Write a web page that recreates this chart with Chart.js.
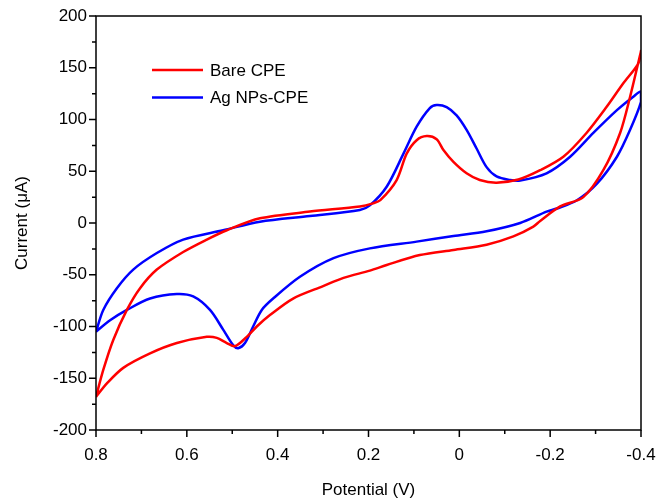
<!DOCTYPE html>
<html>
<head>
<meta charset="utf-8">
<script src="https://cdn.jsdelivr.net/npm/chart.js@4/dist/chart.umd.min.js"></script>
<style>
  html, body { margin: 0; padding: 0; background: #fff; }
  #wrap { width: 660px; height: 501px; }
</style>
</head>
<body>
<div id="wrap"><canvas id="cv"></canvas></div>
<script>
// Cyclic voltammograms. Each curve is a closed loop,
// listed in scan order: potential (V) and current (µA).
const bareV = [0.80, 0.784, 0.762, 0.732, 0.703, 0.666, 0.608, 0.556, 0.512, 0.439, 0.329, 0.219, 0.19, 0.174, 0.138, 0.116, 0.094, 0.072, 0.05, 0.035, 0.013, -0.016, -0.045, -0.082, -0.13, -0.178, -0.229, -0.28, -0.324, -0.361, -0.394, -0.40,
  -0.376, -0.354, -0.317, -0.273, -0.222, -0.178, -0.163, -0.119, -0.06, 0.013, 0.087, 0.16, 0.197, 0.255, 0.30, 0.366, 0.417, 0.446, 0.468, 0.494, 0.512, 0.534, 0.556, 0.622, 0.681, 0.74, 0.776, 0.80];
const bareI = [-168, -142, -113, -84, -63, -45, -28, -16, -7, 4.5, 11, 16, 19, 22, 41.5, 67, 80, 84, 81, 70.5, 59, 48, 41.5, 39, 42, 51, 64, 87, 112, 135, 154, 166,
  122, 87, 51, 25, 16, 2, -3.5, -13, -21, -26, -31, -40.6, -46, -53, -61, -73, -89, -100, -110, -119, -116, -111, -110, -116, -126, -140, -155, -168];

const agV = [0.80, 0.784, 0.754, 0.718, 0.666, 0.608, 0.52, 0.439, 0.329, 0.219, 0.197, 0.16, 0.123, 0.094, 0.065, 0.05, 0.028, 0.006, -0.016, -0.038, -0.06, -0.082, -0.112, -0.134, -0.192, -0.244, -0.295, -0.347, -0.383, -0.40,
  -0.40, -0.376, -0.347, -0.303, -0.259, -0.215, -0.192, -0.134, -0.06, 0.013, 0.094, 0.197, 0.277, 0.351, 0.41, 0.435, 0.454, 0.472, 0.487, 0.498, 0.52, 0.549, 0.586, 0.622, 0.681, 0.732, 0.769, 0.80];
const agI = [-105, -84, -63, -45, -29, -16, -7, 1.3, 6.8, 12.6, 17, 35, 67, 93, 111, 114, 112, 104, 90, 72, 54, 45, 41.5, 41, 48, 64, 87, 109, 122, 127,
  117, 90, 64, 38, 22, 14, 11, 0, -8, -12.6, -18, -24.5, -34, -52, -73, -84, -100, -116, -121, -118, -103, -84, -71, -68.6, -73, -84, -94, -105];

const seriesLabels = ['Bare CPE', 'Ag NPs-CPE'];
const seriesColors = ['#ff0000', '#0000ff'];

const xMajor = [0.8, 0.6, 0.4, 0.2, 0, -0.2, -0.4];
const yMajor = [-200, -150, -100, -50, 0, 50, 100, 150, 200];

const FONT = '"Liberation Sans", Arial, Helvetica, sans-serif';
const pts = (xs, ys) => xs.map((x, i) => ({ x, y: ys[i] }));

// Frame, outward major/minor ticks and the in-plot legend.
const framePlugin = {
  id: 'frame',
  afterDraw(chart) {
    const { ctx, chartArea: a, scales: { x, y } } = chart;
    ctx.save();
    ctx.strokeStyle = '#000';
    ctx.lineWidth = 1.5;
    ctx.strokeRect(a.left, a.top, a.right - a.left, a.bottom - a.top);
    ctx.beginPath();
    for (let v = -200; v <= 200; v += 25) {
      const py = y.getPixelForValue(v);
      const len = v % 50 === 0 ? 7 : 4;
      ctx.moveTo(a.left, py); ctx.lineTo(a.left - len, py);
    }
    for (let k = -4; k <= 8; k++) {
      const px = x.getPixelForValue(k / 10);
      const len = k % 2 === 0 ? 7 : 4;
      ctx.moveTo(px, a.bottom); ctx.lineTo(px, a.bottom + len);
    }
    ctx.stroke();

    ctx.font = '17px ' + FONT;
    ctx.textBaseline = 'middle';
    chart.data.datasets.forEach((ds, i) => {
      const ly = 70 + i * 27.5;
      ctx.strokeStyle = ds.borderColor;
      ctx.lineWidth = 2.5;
      ctx.beginPath();
      ctx.moveTo(152, ly); ctx.lineTo(203, ly);
      ctx.stroke();
      ctx.fillStyle = '#000';
      ctx.fillText(ds.label, 210, ly + 1);
    });
    ctx.restore();
  }
};

new Chart(document.getElementById('cv'), {
  type: 'scatter',
  data: {
    datasets: [
      { label: seriesLabels[0], data: pts(bareV, bareI), borderColor: seriesColors[0] },
      { label: seriesLabels[1], data: pts(agV, agI), borderColor: seriesColors[1] },
    ].map((d) => ({ ...d, showLine: true, pointRadius: 0, borderWidth: 2.5, tension: 0.3, fill: false })),
  },
  options: {
    responsive: true,
    maintainAspectRatio: false,
    animation: false,
    events: [],
    layout: { padding: { left: 0, right: 19, top: 16, bottom: 0 } },
    plugins: { legend: { display: false }, tooltip: { enabled: false } },
    scales: {
      x: {
        type: 'linear', reverse: true, min: -0.4, max: 0.8,
        afterBuildTicks: (s) => { s.ticks = xMajor.map((value) => ({ value })); },
        afterFit: (s) => { s.height = 71; s.paddingLeft = 0; s.paddingRight = 0; },
        grid: { display: false, drawTicks: false },
        border: { display: false },
        ticks: { color: '#000', font: { family: FONT, size: 17 }, padding: 15, maxRotation: 0,
          callback: (v) => String(Math.round(v * 10) / 10) },
        title: { display: true, text: 'Potential (V)', color: '#000', font: { family: FONT, size: 17 }, padding: { top: 0, bottom: 0 } },
      },
      y: {
        type: 'linear', min: -200, max: 200,
        afterBuildTicks: (s) => { s.ticks = yMajor.map((value) => ({ value })); },
        afterFit: (s) => { s.width = 96; s.paddingTop = 0; s.paddingBottom = 0; },
        grid: { display: false, drawTicks: false },
        border: { display: false },
        ticks: { color: '#000', font: { family: FONT, size: 17 }, padding: 9 },
        title: { display: true, text: 'Current (μA)', color: '#000', font: { family: FONT, size: 17 }, padding: { top: 12, bottom: 0 } },
      },
    },
  },
  plugins: [framePlugin],
});
</script>
</body>
</html>
